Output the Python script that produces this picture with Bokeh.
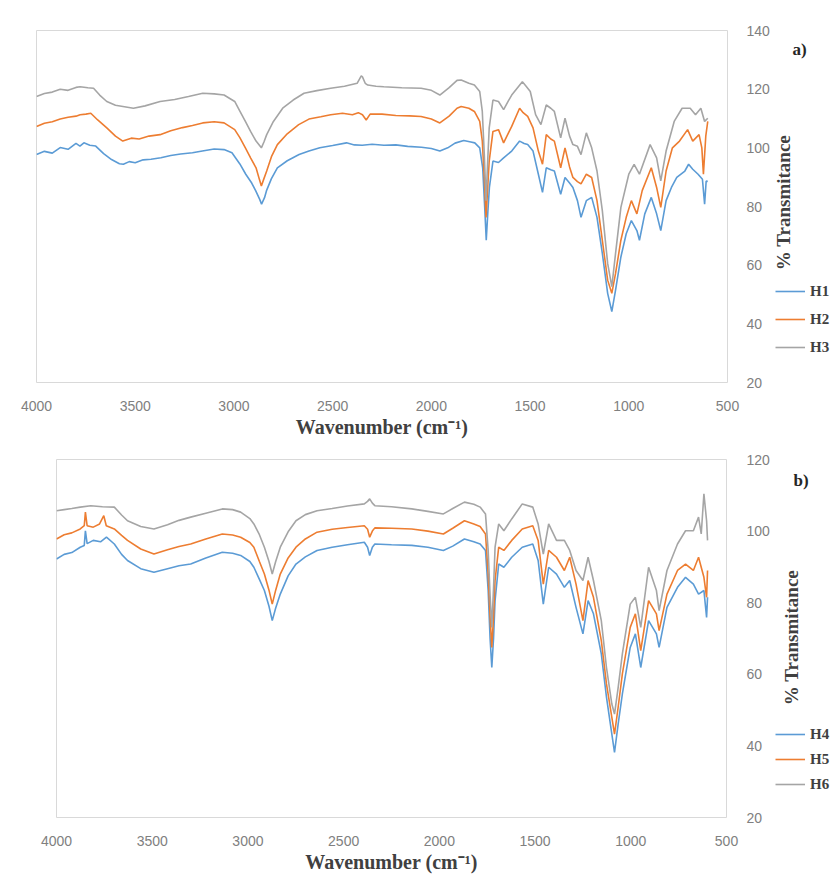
from bokeh.plotting import figure
from bokeh.layouts import row
from bokeh.models import Range1d, SingleIntervalTicker, Label, Legend, LegendItem, ColumnDataSource
from bokeh.embed import file_html
from bokeh.resources import INLINE
import math

# ---------------- data ----------------
x_ticks = [4000, 3500, 3000, 2500, 2000, 1500, 1000, 500]

h1_wn = [4000, 3960, 3920, 3880, 3840, 3800, 3780, 3760, 3730, 3700, 3660, 3620, 3580, 3560, 3530, 3500, 3460, 3420, 3370, 3320, 3270, 3210, 3160, 3100, 3050, 3010, 2970, 2940, 2910, 2890, 2870, 2860, 2845, 2835, 2810, 2780, 2730, 2670, 2620, 2565, 2500, 2430, 2390, 2350, 2300, 2240, 2180, 2120, 2050, 2000, 1957, 1917, 1880, 1836, 1800, 1780, 1755, 1740, 1730, 1722, 1714, 1706, 1688, 1660, 1634, 1593, 1553, 1530, 1512, 1485, 1458, 1437, 1418, 1395, 1377, 1345, 1323, 1300, 1283, 1260, 1242, 1215, 1188, 1161, 1134, 1107, 1086, 1067, 1040, 1013, 987, 959, 946, 919, 886, 859, 838, 811, 784, 757, 716, 697, 676, 649, 627, 616, 608, 600]
h1_t = [97.7, 98.8, 98.2, 100.1, 99.5, 101.5, 100.6, 101.7, 100.9, 100.6, 98.0, 96.0, 94.6, 94.4, 95.3, 94.9, 95.9, 96.1, 96.6, 97.4, 97.9, 98.3, 98.9, 99.6, 99.4, 98.3, 94.5, 91.0, 88.0, 85.4, 82.5, 80.8, 83.0, 85.4, 89.5, 93.2, 95.6, 97.7, 98.9, 100.0, 100.8, 101.7, 101.0, 100.9, 101.2, 100.9, 101.0, 100.5, 100.2, 99.8, 98.9, 100.0, 101.6, 102.5, 102.0, 101.7, 100.0, 93.2, 80.0, 68.5, 78.0, 86.5, 95.5, 95.0, 96.6, 98.9, 102.3, 101.5, 101.1, 98.9, 91.0, 84.8, 93.2, 92.5, 92.1, 84.2, 89.9, 88.0, 86.5, 82.0, 76.3, 82.0, 83.1, 76.3, 64.0, 50.4, 44.2, 51.5, 62.8, 70.7, 75.2, 71.8, 68.5, 77.5, 83.1, 77.5, 71.8, 82.0, 86.5, 89.9, 92.1, 94.4, 92.7, 91.0, 89.3, 80.8, 88.7, 88.5]

h2_wn = [4000, 3960, 3920, 3880, 3840, 3800, 3779, 3750, 3725, 3690, 3644, 3600, 3563, 3520, 3480, 3430, 3374, 3320, 3260, 3210, 3158, 3100, 3050, 2996, 2970, 2942, 2915, 2888, 2870, 2861, 2848, 2834, 2810, 2780, 2730, 2672, 2620, 2560, 2510, 2450, 2400, 2370, 2349, 2330, 2310, 2250, 2180, 2110, 2052, 2000, 1957, 1910, 1870, 1849, 1810, 1782, 1755, 1742, 1732, 1723, 1715, 1707, 1688, 1660, 1634, 1610, 1593, 1553, 1535, 1512, 1485, 1458, 1437, 1418, 1395, 1377, 1345, 1323, 1300, 1283, 1260, 1242, 1215, 1188, 1161, 1134, 1107, 1086, 1067, 1040, 1013, 987, 959, 932, 886, 859, 838, 811, 779, 743, 702, 676, 644, 630, 622, 610, 600]
h2_t = [107.3, 108.4, 108.9, 109.8, 110.4, 110.8, 111.3, 111.5, 111.8, 109.5, 106.8, 104.0, 102.3, 103.3, 103.0, 104.0, 104.5, 105.8, 106.9, 107.6, 108.5, 108.9, 108.5, 106.2, 103.5, 100.0, 96.5, 93.2, 89.0, 87.0, 89.5, 92.1, 97.0, 101.1, 104.8, 107.9, 109.8, 110.6, 111.3, 111.8, 111.3, 112.0, 111.3, 109.5, 111.5, 111.5, 111.0, 110.9, 110.7, 109.8, 108.5, 110.8, 113.5, 114.1, 113.5, 112.4, 109.0, 102.3, 90.0, 76.3, 86.0, 95.5, 105.6, 106.2, 101.7, 105.0, 107.3, 113.5, 112.0, 110.7, 106.8, 98.9, 94.4, 104.5, 103.0, 102.3, 93.2, 100.0, 93.5, 89.9, 88.5, 87.7, 91.0, 89.9, 82.0, 68.5, 54.9, 50.4, 57.2, 68.5, 76.3, 82.0, 77.5, 85.4, 93.2, 86.5, 79.7, 92.1, 100.0, 102.3, 106.2, 102.3, 104.5, 100.0, 91.0, 104.0, 109.0]

h3_wn = [4000, 3960, 3920, 3880, 3840, 3800, 3779, 3740, 3711, 3680, 3644, 3600, 3509, 3450, 3374, 3300, 3230, 3158, 3100, 3050, 2996, 2970, 2942, 2915, 2888, 2861, 2848, 2834, 2800, 2753, 2700, 2645, 2580, 2510, 2440, 2376, 2355, 2349, 2335, 2322, 2280, 2241, 2150, 2052, 2000, 1957, 1910, 1870, 1849, 1810, 1782, 1755, 1742, 1732, 1723, 1715, 1707, 1688, 1660, 1634, 1610, 1593, 1539, 1520, 1499, 1472, 1445, 1418, 1395, 1377, 1345, 1323, 1300, 1283, 1260, 1242, 1215, 1188, 1161, 1134, 1107, 1086, 1067, 1040, 1000, 973, 946, 892, 859, 838, 811, 770, 730, 689, 662, 635, 616, 600]
h3_t = [117.5, 118.5, 119.0, 120.0, 119.6, 120.6, 120.8, 120.5, 120.3, 118.0, 115.8, 114.5, 113.5, 114.3, 115.8, 116.5, 117.5, 118.6, 118.4, 118.0, 115.8, 112.5, 109.0, 105.5, 102.3, 100.0, 102.0, 104.5, 109.0, 113.5, 116.3, 118.6, 119.5, 120.3, 121.0, 122.0, 124.5, 124.2, 122.0, 121.4, 121.0, 120.8, 120.5, 120.3, 119.6, 118.0, 120.5, 123.0, 123.1, 122.0, 121.4, 119.2, 112.4, 98.0, 82.0, 95.0, 106.8, 116.3, 115.8, 113.0, 116.0, 118.0, 122.5, 121.0, 119.2, 111.3, 107.9, 114.6, 113.5, 112.4, 103.4, 110.1, 104.0, 101.1, 100.5, 97.7, 105.1, 100.0, 92.1, 78.6, 60.6, 52.7, 64.0, 79.7, 91.0, 94.4, 91.0, 101.1, 96.6, 88.7, 98.9, 109.0, 113.5, 113.5, 111.3, 113.5, 109.0, 110.1]

h4_wn = [4000, 3960, 3920, 3876, 3855, 3849, 3840, 3808, 3770, 3739, 3698, 3660, 3629, 3560, 3491, 3420, 3360, 3299, 3220, 3134, 3080, 3038, 2990, 2969, 2940, 2914, 2890, 2873, 2855, 2831, 2790, 2749, 2700, 2639, 2560, 2480, 2392, 2375, 2364, 2350, 2337, 2250, 2144, 2060, 1979, 1930, 1869, 1820, 1787, 1759, 1745, 1735, 1726, 1717, 1709, 1690, 1663, 1622, 1567, 1512, 1484, 1457, 1429, 1388, 1347, 1319, 1286, 1250, 1223, 1195, 1154, 1127, 1099, 1085, 1066, 1044, 1003, 976, 948, 907, 866, 852, 811, 756, 714, 673, 646, 618, 604, 599]
h4_t = [92.2, 93.5, 94.0, 95.5, 96.0, 100.1, 96.5, 97.4, 97.0, 98.3, 96.4, 93.5, 91.8, 89.5, 88.5, 89.5, 90.3, 90.8, 92.5, 94.1, 93.8, 93.2, 91.5, 89.9, 86.5, 83.4, 79.0, 75.0, 78.5, 82.4, 87.5, 90.8, 92.8, 94.6, 95.5, 96.2, 96.9, 95.5, 93.2, 95.5, 96.4, 96.2, 96.0, 95.5, 94.6, 95.8, 97.8, 97.0, 96.4, 94.6, 83.4, 70.0, 61.9, 70.0, 80.6, 90.8, 89.9, 92.7, 95.5, 96.4, 91.8, 79.6, 89.9, 88.0, 84.3, 86.2, 78.7, 71.3, 80.6, 76.9, 65.7, 53.6, 43.3, 38.2, 46.1, 54.5, 67.5, 71.3, 61.9, 75.0, 71.3, 67.5, 78.7, 84.3, 87.1, 85.2, 82.4, 83.4, 75.9, 81.5]

h5_wn = [4000, 3960, 3920, 3876, 3855, 3849, 3840, 3808, 3775, 3753, 3740, 3698, 3660, 3629, 3560, 3491, 3420, 3360, 3299, 3220, 3134, 3080, 3038, 2990, 2969, 2940, 2914, 2890, 2873, 2855, 2831, 2790, 2749, 2700, 2639, 2560, 2480, 2392, 2375, 2364, 2350, 2337, 2250, 2144, 2060, 1979, 1930, 1869, 1820, 1787, 1759, 1745, 1735, 1726, 1717, 1709, 1690, 1663, 1622, 1567, 1512, 1484, 1457, 1429, 1388, 1347, 1319, 1286, 1250, 1223, 1195, 1154, 1127, 1099, 1085, 1066, 1044, 1003, 976, 948, 907, 866, 852, 811, 756, 714, 673, 646, 618, 604, 599]
h5_t = [97.8, 99.0, 99.5, 100.6, 101.5, 105.3, 101.5, 101.1, 102.0, 104.3, 101.5, 100.6, 98.8, 97.4, 95.0, 93.6, 94.8, 95.7, 96.4, 97.8, 99.2, 98.9, 98.3, 96.8, 95.5, 91.5, 88.0, 83.5, 79.6, 83.5, 88.0, 92.5, 95.5, 97.8, 99.7, 100.5, 101.0, 101.5, 100.5, 98.3, 100.0, 100.9, 100.8, 100.6, 100.0, 99.2, 100.8, 102.9, 102.0, 101.3, 99.2, 88.0, 76.0, 67.5, 76.0, 86.2, 95.5, 94.6, 97.4, 100.6, 101.5, 97.4, 85.2, 94.6, 92.7, 89.0, 92.7, 85.2, 75.0, 86.2, 81.5, 69.4, 57.3, 48.0, 43.3, 50.8, 60.1, 73.1, 76.9, 66.6, 80.6, 76.9, 72.2, 82.4, 89.0, 90.8, 89.0, 92.7, 87.1, 81.5, 89.0]

h6_wn = [4000, 3960, 3920, 3876, 3821, 3760, 3698, 3660, 3629, 3560, 3491, 3420, 3360, 3299, 3220, 3134, 3080, 3038, 2990, 2969, 2940, 2914, 2890, 2873, 2855, 2831, 2790, 2749, 2700, 2639, 2560, 2480, 2392, 2375, 2364, 2350, 2337, 2250, 2144, 2060, 1979, 1930, 1869, 1820, 1787, 1759, 1745, 1735, 1726, 1717, 1709, 1690, 1663, 1622, 1567, 1512, 1484, 1457, 1429, 1388, 1347, 1319, 1286, 1250, 1223, 1195, 1154, 1127, 1099, 1085, 1066, 1044, 1003, 976, 948, 907, 866, 852, 811, 756, 714, 673, 646, 632, 618, 604, 599]
h6_t = [105.7, 106.0, 106.3, 106.7, 107.1, 106.8, 106.7, 104.5, 102.9, 101.3, 100.6, 101.8, 103.0, 103.9, 105.0, 106.2, 106.0, 105.3, 103.5, 102.0, 99.0, 95.5, 91.5, 88.0, 91.5, 95.5, 99.8, 102.9, 104.6, 105.7, 106.3, 107.0, 107.6, 108.3, 109.0, 107.8, 107.1, 106.8, 106.2, 105.5, 104.8, 106.3, 108.1, 107.5, 106.7, 104.8, 94.6, 82.0, 73.1, 84.0, 95.5, 102.0, 100.1, 103.4, 107.6, 106.7, 102.0, 93.6, 102.0, 97.4, 97.4, 94.6, 89.0, 86.2, 92.7, 86.2, 75.0, 61.9, 51.7, 48.9, 56.3, 65.7, 79.6, 81.5, 73.1, 89.9, 83.4, 77.8, 89.0, 96.4, 100.1, 100.1, 103.9, 99.2, 110.4, 102.9, 97.4]

names_a = ["H1", "H2", "H3"]
names_b = ["H4", "H5", "H6"]
colors = ["#5B9BD5", "#ED7D31", "#A5A5A5"]

SERIF = "Liberation Serif"
TICK_FONT = "Liberation Sans"
MAIN_W = 772
SIDE_W = 832 - MAIN_W


def make_panel(series, names, y_max, tag, height, borders, ystand, legend_loc, legend_spacing,
               ylab_xy, tag_xy):
    left, right, top, bottom = borders
    p = figure(width=MAIN_W, height=height, output_backend="svg", toolbar_location=None,
               x_range=Range1d(4000, 500), y_range=Range1d(20, y_max),
               y_axis_location="right", min_border_left=left, min_border_right=right,
               min_border_top=top, min_border_bottom=bottom)
    p.grid.visible = False
    p.outline_line_color = "#d9d9d9"
    p.outline_line_width = 1
    p.xaxis.ticker = x_ticks
    p.yaxis.ticker = SingleIntervalTicker(interval=20)
    for ax in (p.xaxis[0], p.yaxis[0]):
        ax.axis_line_color = None
        ax.major_tick_line_color = None
        ax.minor_tick_line_color = None
        ax.major_label_text_font = TICK_FONT
        ax.major_label_text_font_size = "14px"
        ax.major_label_text_color = "#808080"
    p.xaxis.major_label_standoff = 12
    p.yaxis.major_label_standoff = ystand
    p.xaxis.axis_label = "Wavenumber (cm\u207b\u00b9)"
    p.xaxis.axis_label_text_font = SERIF
    p.xaxis.axis_label_text_font_style = "bold"
    p.xaxis.axis_label_text_font_size = "20px"
    p.xaxis.axis_label_text_color = "#404040"
    p.xaxis.axis_label_standoff = 2

    for (wn, t), c in zip(series, colors):
        p.line(wn, t, line_color=c, line_width=1.6)

    # side strip holding the y title, panel tag and legend
    s = figure(width=SIDE_W, height=height, output_backend="svg", toolbar_location=None,
               x_axis_location=None, y_axis_location=None,
               x_range=Range1d(0, 1), y_range=Range1d(0, 1),
               min_border_left=0, min_border_right=0,
               min_border_top=top, min_border_bottom=bottom)
    s.grid.visible = False
    s.outline_line_color = None
    items = []
    for nm, c in zip(names, colors):
        # placeholder renderer: only supplies the legend swatch style
        src = ColumnDataSource(data=dict(x=[math.nan], y=[math.nan]))
        r = s.line("x", "y", source=src, line_color=c, line_width=1.6)
        items.append(LegendItem(label=nm, renderers=[r]))
    leg = Legend(items=items, location=legend_loc, padding=0, margin=0,
                 border_line_color=None, background_fill_alpha=0,
                 glyph_width=30, glyph_height=20, label_height=20, spacing=legend_spacing,
                 label_standoff=5, label_text_font=SERIF, label_text_font_style="bold",
                 label_text_font_size="15px", label_text_color="#404040")
    s.add_layout(leg, "center")
    s.add_layout(Label(x=ylab_xy[0], y=ylab_xy[1], x_units="screen", y_units="screen",
                       text="% Transmitance", angle=math.pi / 2, text_align="center",
                       text_baseline="middle", text_font=SERIF, text_font_style="bold",
                       text_font_size="19px", text_color="#404040"))
    s.add_layout(Label(x=tag_xy[0], y=tag_xy[1], x_units="screen", y_units="screen",
                       text=tag, text_align="left", text_baseline="middle",
                       text_font=SERIF, text_font_style="bold",
                       text_font_size="17px", text_color="#262626"))
    return row(p, s, spacing=0)


ra = make_panel([(h1_wn, h1_t), (h2_wn, h2_t), (h3_wn, h3_t)], names_a, 140, "a)", 440,
                (36, MAIN_W - 727, 30, 57), 13, (3, 25), 8, (11, 180), (20, 333))
rb = make_panel([(h4_wn, h4_t), (h5_wn, h5_t), (h6_wn, h6_t)], names_b, 120, "b)", 439,
                (56, MAIN_W - 731, 19, 62), 14, (3, 23), 5, (19, 180), (21, 337))

open("out.html", "w").write(file_html([ra, rb], INLINE))
